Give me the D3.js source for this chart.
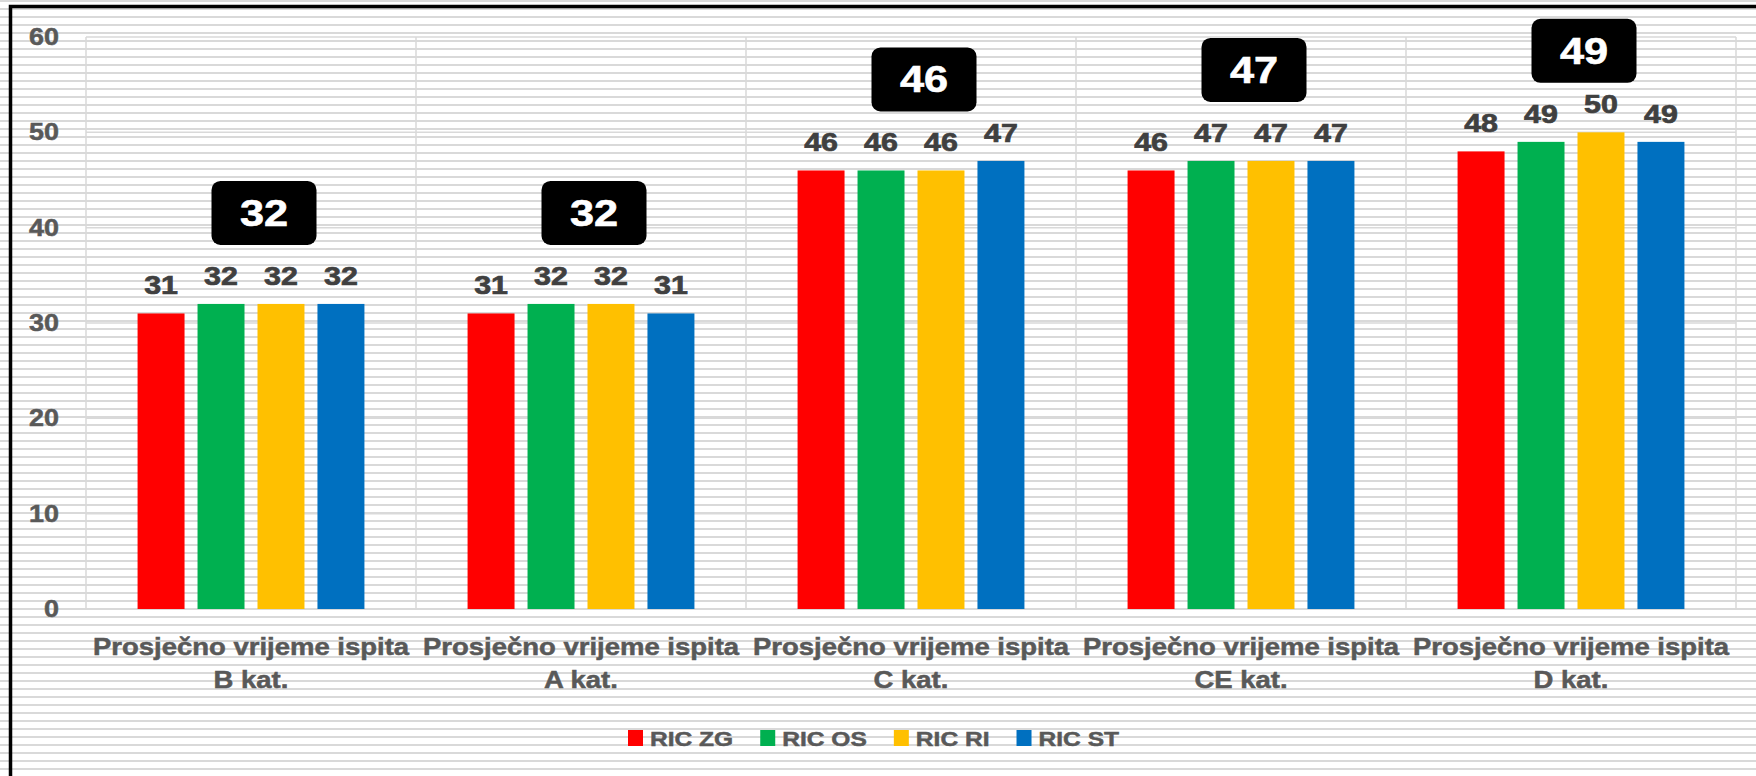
<!DOCTYPE html>
<html>
<head>
<meta charset="utf-8">
<script src="https://cdn.jsdelivr.net/npm/d3@7"></script>
<style>
  body { margin: 0; background: #fff; }
  text { font-family: "Liberation Sans", Arial, sans-serif; font-weight: bold; }
</style>
</head>
<body>
<svg id="chart"></svg>
<script>
// data
var categories = ["B kat.", "A kat.", "C kat.", "CE kat.", "D kat."]
var categoryPrefix = "Prosječno vrijeme ispita"
var series = ["RIC ZG", "RIC OS", "RIC RI", "RIC ST"]
var ricZG = [31, 31, 46, 46, 48]
var ricOS = [32, 32, 46, 47, 49]
var ricRI = [32, 32, 46, 47, 50]
var ricST = [32, 31, 47, 47, 49]
var averages = [32, 32, 46, 47, 49]
var yTicks = [0, 10, 20, 30, 40, 50, 60]
var colors = ["#FF0000", "#00B050", "#FFC000", "#0070C0"]

var W = 1756, H = 776
var plot = {left: 86, right: 1736, top: 37, bottom: 609}
// the original text is a bit wider than plain arial bold
var SX = 1.17

function place(x, y) {
  return "translate(" + x + "," + y + ") scale(" + SX + ",1)"
}

var svg = d3.select("#chart")
  .attr("width", W)
  .attr("height", H)

// striped background (narrow horizontal pattern)
var defs = svg.append("defs")
var pat = defs.append("pattern")
  .attr("id", "stripes")
  .attr("patternUnits", "userSpaceOnUse")
  .attr("width", 8)
  .attr("height", 8)
pat.append("rect").attr("width", 8).attr("height", 8).attr("fill", "#fff")
pat.append("rect").attr("width", 8).attr("height", 2).attr("fill", "#d9d9d9")

svg.append("rect")
  .attr("width", W)
  .attr("height", H)
  .attr("fill", "url(#stripes)")

// black frame
svg.append("rect")
  .attr("x", 10.5)
  .attr("y", 6.5)
  .attr("width", W + 20)
  .attr("height", H + 20)
  .attr("fill", "none")
  .attr("stroke", "#000")
  .attr("stroke-width", 3.5)

// scales
var x0 = d3.scaleBand()
  .domain(categories)
  .range([plot.left, plot.right])

var x1 = d3.scaleBand()
  .domain(series)
  .range([0, x0.bandwidth()])
  .paddingInner(13 / 60)
  .paddingOuter(0.86)

var y = d3.scaleLinear()
  .domain([0, 60])
  .range([plot.bottom, plot.top])

var color = d3.scaleOrdinal().domain(series).range(colors)

// gridlines
svg.append("g")
  .selectAll("line")
  .data(yTicks)
  .enter()
  .append("line")
  .attr("x1", plot.left).attr("x2", plot.right)
  .attr("y1", function(d) { return y(d) }).attr("y2", function(d) { return y(d) })
  .attr("stroke", "#d9d9d9")
  .attr("stroke-width", 1.5)

var bounds = categories.map(function(c) { return x0(c) }).concat([plot.right])
svg.append("g")
  .selectAll("line")
  .data(bounds)
  .enter()
  .append("line")
  .attr("x1", function(d) { return d }).attr("x2", function(d) { return d })
  .attr("y1", plot.top).attr("y2", plot.bottom)
  .attr("stroke", "#d9d9d9")
  .attr("stroke-width", 1.5)

// y axis labels
var yAxis = d3.axisLeft(y).tickValues(yTicks).tickSize(0).tickPadding(0)
var yg = svg.append("g")
  .attr("transform", "translate(" + (plot.left - 27) + ",0)")
  .call(yAxis)
yg.select(".domain").remove()
yg.selectAll("text")
  .attr("x", 0)
  .attr("transform", "scale(" + SX + ",1)")
  .attr("fill", "#595959")
  .attr("stroke", "#595959")
  .attr("stroke-width", 0.5)
  .style("font-size", "23px")
  .style("font-family", "'Liberation Sans', Arial, sans-serif")
  .style("font-weight", "bold")

// bars
var rows = categories.map(function(c, i) {
  return {cat: c, values: [ricZG[i], ricOS[i], ricRI[i], ricST[i]]}
})

var groups = svg.append("g")
  .selectAll("g")
  .data(rows)
  .enter()
  .append("g")
  .attr("transform", function(d) { return "translate(" + x0(d.cat) + ",0)" })

groups.selectAll("rect")
  .data(function(d) { return d.values.map(function(v, j) { return {key: series[j], value: v} }) })
  .enter()
  .append("rect")
  .attr("x", function(d) { return x1(d.key) })
  .attr("width", x1.bandwidth())
  .attr("y", function(d) { return y(d.value) })
  .attr("height", function(d) { return y(0) - y(d.value) })
  .attr("fill", function(d) { return color(d.key) })

groups.selectAll("text.val")
  .data(function(d) { return d.values.map(function(v, j) { return {key: series[j], value: v} }) })
  .enter()
  .append("text")
  .attr("class", "val")
  .attr("transform", function(d) { return place(x1(d.key) + x1.bandwidth() / 2, y(d.value) - 19) })
  .attr("text-anchor", "middle")
  .attr("fill", "#404040")
  .attr("stroke", "#404040")
  .attr("stroke-width", 0.7)
  .style("font-size", "26px")
  .text(function(d) { return d.value })

// average callouts
var boxW = 105, boxH = 64
var callouts = svg.append("g")
  .selectAll("g")
  .data(averages)
  .enter()
  .append("g")
  .attr("transform", function(d, i) {
    var cx = x0(categories[i]) + x0.bandwidth() / 2 + 13
    var cy = y(d) - 91
    return "translate(" + cx + "," + cy + ")"
  })

callouts.append("rect")
  .attr("x", -boxW / 2)
  .attr("y", -boxH / 2)
  .attr("width", boxW)
  .attr("height", boxH)
  .attr("rx", 9)
  .attr("fill", "#000")

callouts.append("text")
  .attr("transform", place(0, 13))
  .attr("text-anchor", "middle")
  .attr("fill", "#fff")
  .attr("stroke", "#fff")
  .attr("stroke-width", 0.6)
  .style("font-size", "37px")
  .text(function(d) { return d })

// category labels
var xl = svg.append("g")
  .selectAll("text")
  .data(categories)
  .enter()
  .append("text")
  .attr("transform", function(d) { return place(x0(d) + x0.bandwidth() / 2, 655) })
  .attr("text-anchor", "middle")
  .attr("fill", "#595959")
  .attr("stroke", "#595959")
  .attr("stroke-width", 0.5)
  .style("font-size", "23.5px")
xl.append("tspan")
  .attr("x", 0)
  .text(categoryPrefix)
xl.append("tspan")
  .attr("x", 0)
  .attr("dy", 33)
  .text(function(d) { return d })

// legend
var legend = svg.append("g").attr("transform", "translate(628,730)")
var lx = 0
series.forEach(function(s) {
  var item = legend.append("g").attr("transform", "translate(" + lx + ",0)")
  item.append("rect")
    .attr("width", 15)
    .attr("height", 16)
    .attr("fill", color(s))
  var t = item.append("text")
    .attr("transform", place(22, 15.5))
    .attr("fill", "#595959")
    .attr("stroke", "#595959")
    .attr("stroke-width", 0.5)
    .style("font-size", "21px")
    .text(s)
  lx += 22 + t.node().getComputedTextLength() * SX + 27
})
</script>
</body>
</html>
